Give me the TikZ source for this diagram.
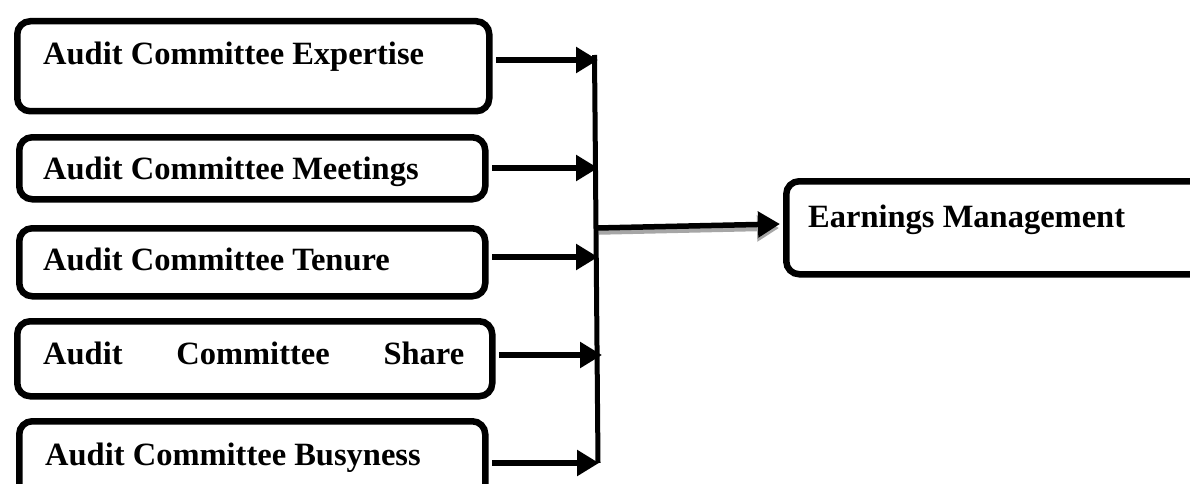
\documentclass[tikz,border=0pt]{standalone}
\usepackage{fontspec}
\setmainfont{Liberation Serif}
\usetikzlibrary{arrows.meta}
\tikzset{
  box/.style={draw=black, line width=6.5pt, rounded corners=13pt, fill=white, inner sep=0pt, anchor=north west},
  lbl/.style={inner sep=0pt, anchor=base west, font=\fontsize{32.5}{38}\selectfont\bfseries},
  arr/.style={line width=5.5pt, -{Triangle[length=22pt,width=25pt]}},
  shadowarr/.style={line width=5.5pt, draw=black!35, -{Triangle[length=22pt,width=25pt]}},
}
\begin{document}
\begin{tikzpicture}[x=1pt,y=-1pt]
\useasboundingbox (0,0) rectangle (1190,484);
\clip (0,0) rectangle (1190,484);
% boxes
\node[box, minimum width=472pt, minimum height=90pt] (b1) at (14,18) {};
\node[box, minimum width=466pt, minimum height=62pt] (b2) at (16,134) {};
\node[box, minimum width=466pt, minimum height=68pt] (b3) at (16,225) {};
\node[box, minimum width=475pt, minimum height=75pt] (b4) at (14,318) {};
\node[box, minimum width=466pt, minimum height=90pt] (b5) at (16,418) {};
\node[box, minimum width=430pt, minimum height=93pt] (em) at (783,178) {};
% labels
\node[lbl] (t1) at (43,65) {Audit Committee Expertise};
\node[lbl] (t2) at (43,179) {Audit Committee Meetings};
\node[lbl] (t3) at (43,270) {Audit Committee Tenure};
\node[lbl] (t4) at (43,364) {\makebox[421pt][s]{Audit\hfill Committee\hfill Share}};
\node[lbl] (t5) at (45,465) {Audit Committee Busyness};
\node[lbl] (t6) at (808,227) {Earnings Management};
% vertical collector line
\coordinate (vtop) at (594.5,55);
\coordinate (vbot) at (598,463);
\draw[line width=5pt] (vtop) -- (vbot);
% arrow ends on the collector
\coordinate (v1) at (598,60);
\coordinate (v2) at (598,168);
\coordinate (v3) at (598,257);
\coordinate (v4) at (602,355);
\coordinate (v5) at (599,463);
\draw[arr] ([xshift=3.5pt]b1.east |- v1) -- (v1);
\draw[arr] ([xshift=3.5pt]b2.east |- v2) -- (v2);
\draw[arr] ([xshift=3.5pt]b3.east |- v3) -- (v3);
\draw[arr] ([xshift=3.5pt]b4.east |- v4) -- (v4);
\draw[arr] ([xshift=3.5pt]b5.east |- v5) -- (v5);
% main arrow with grey shadow
\coordinate (m0) at (597,228);
\coordinate (m1) at (780,224);
\draw[shadowarr] ([shift={(2,4)}]m0) -- ([shift={(-1,4)}]m1);
\draw[arr] (m0) -- (m1);
\end{tikzpicture}
\end{document}
